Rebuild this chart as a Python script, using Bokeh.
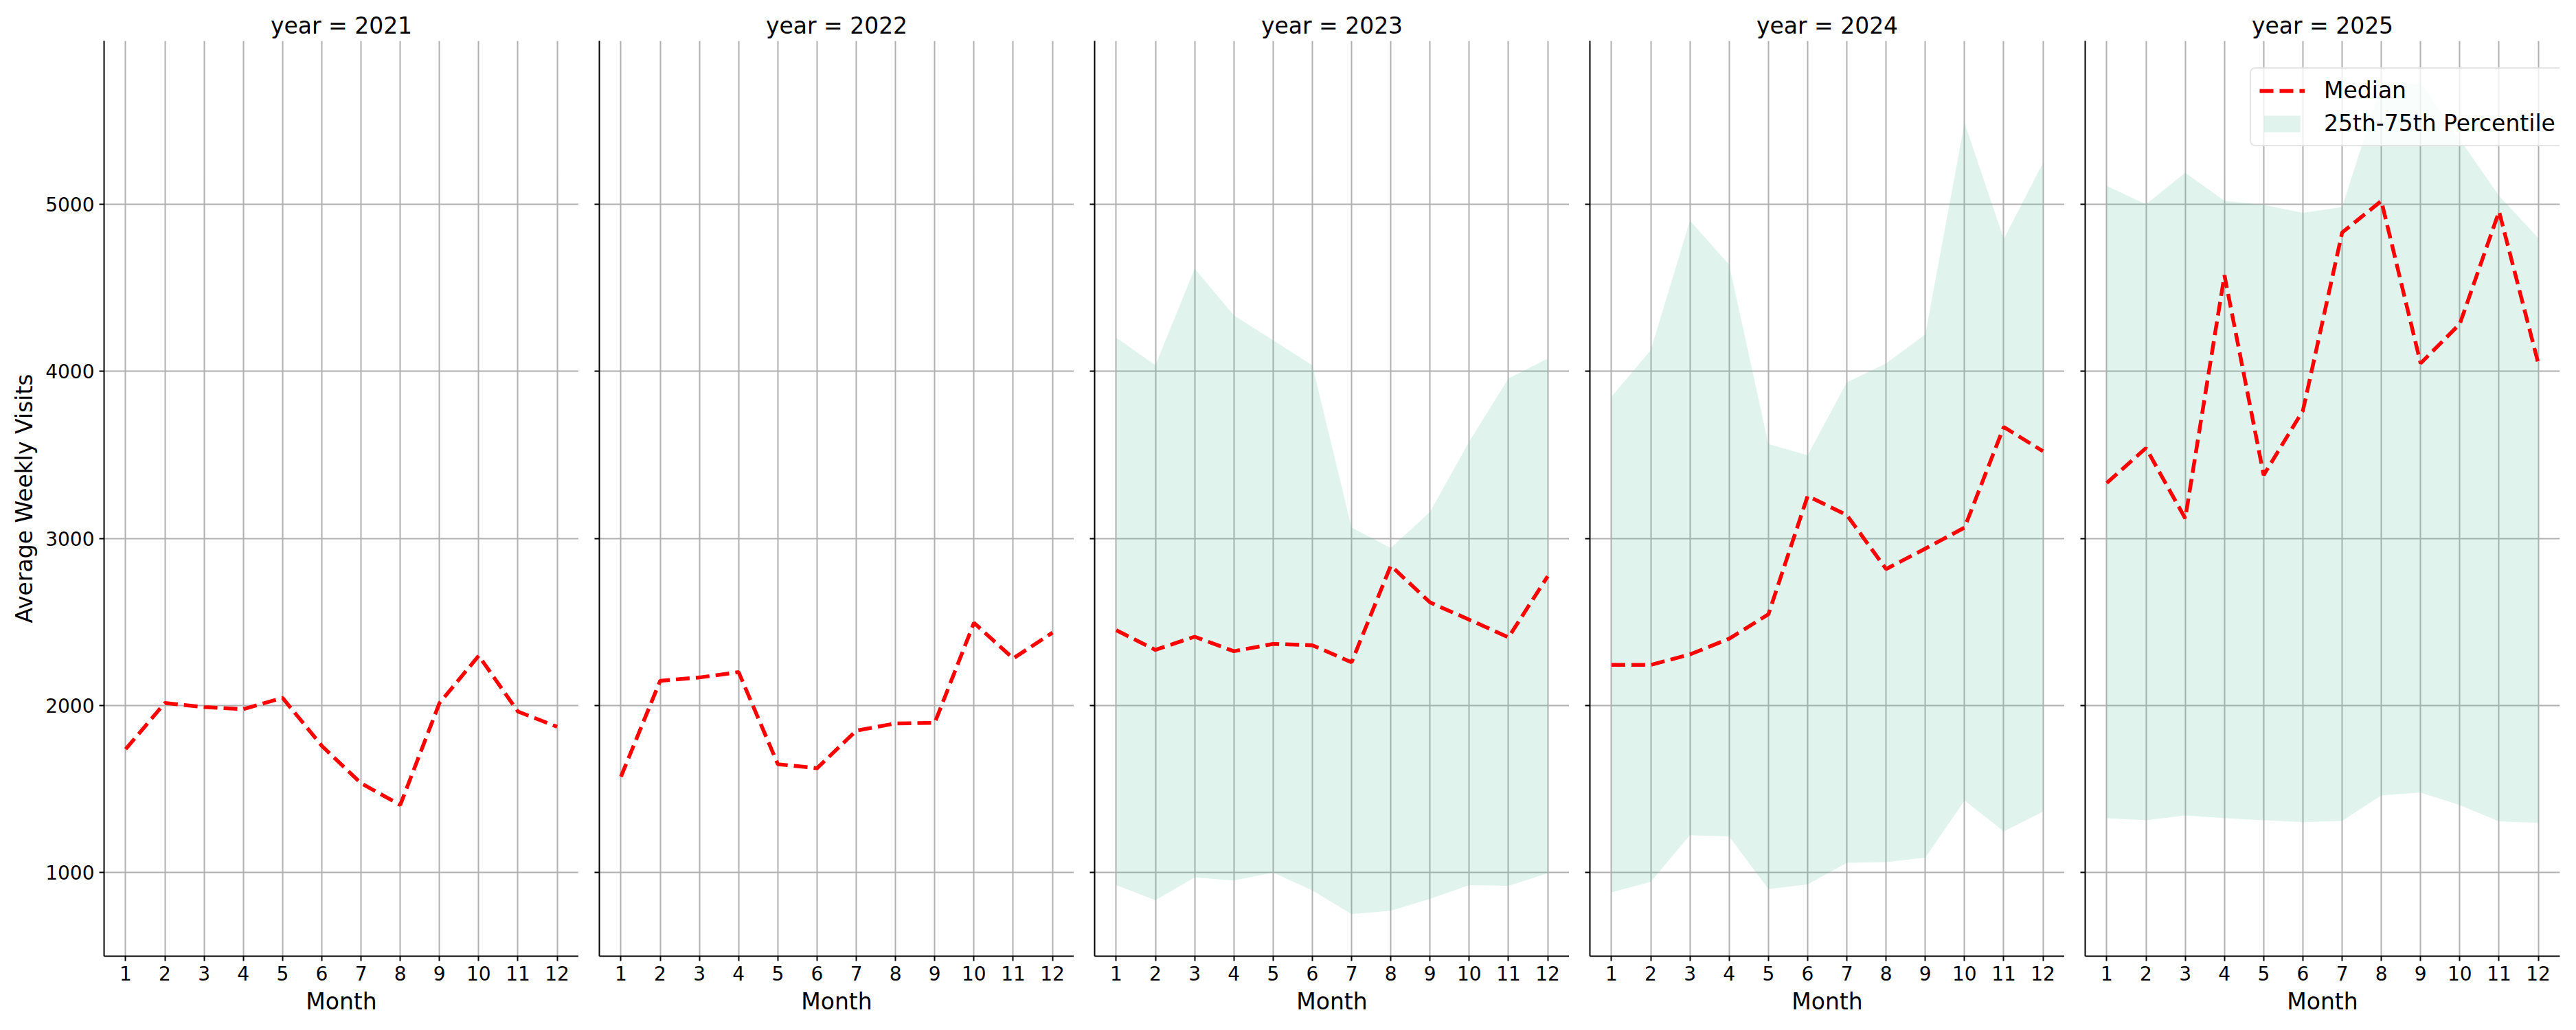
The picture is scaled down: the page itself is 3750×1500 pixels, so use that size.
from bokeh.plotting import figure
from bokeh.layouts import row
from bokeh.models import Range1d, FixedTicker, Legend, LegendItem
from bokeh.embed import file_html
from bokeh.resources import INLINE

# monthly average weekly visits
months = list(range(1, 13))
years = [2021, 2022, 2023, 2024, 2025]
y_ticks = [1000, 2000, 3000, 4000, 5000]

median_2021 = [1739, 2015, 1991, 1979, 2046, 1759, 1535, 1405, 2015, 2298, 1964, 1873]
median_2022 = [1574, 2148, 2168, 2200, 1649, 1625, 1850, 1893, 1897, 2495, 2282, 2436]
median_2023 = [2451, 2333, 2412, 2325, 2369, 2361, 2259, 2837, 2617, 2514, 2408, 2774]
median_2024 = [2243, 2243, 2306, 2400, 2546, 3254, 3140, 2817, 2939, 3065, 3667, 3522]
median_2025 = [3332, 3541, 3120, 4575, 3379, 3765, 4831, 5020, 4048, 4284, 4957, 4048]

p25_2023 = [925, 835, 972, 953, 1000, 894, 752, 772, 843, 925, 921, 996]
p75_2023 = [4202, 4036, 4615, 4335, 4186, 4036, 3065, 2943, 3159, 3580, 3958, 4076]
p25_2024 = [882, 945, 1224, 1216, 902, 929, 1059, 1063, 1090, 1432, 1247, 1365]
p75_2024 = [3848, 4127, 4902, 4638, 3565, 3498, 3935, 4048, 4221, 5488, 4792, 5248]
p25_2025 = [1326, 1314, 1342, 1326, 1314, 1302, 1310, 1463, 1479, 1404, 1306, 1298]
p75_2025 = [5110, 5000, 5189, 5020, 4996, 4949, 4984, 5715, 5725, 5388, 5050, 4799]

medians = {2021: median_2021, 2022: median_2022, 2023: median_2023,
           2024: median_2024, 2025: median_2025}
lower = {2023: p25_2023, 2024: p25_2024, 2025: p25_2025}
upper = {2023: p75_2023, 2024: p75_2024, 2025: p75_2025}

FONT = "DejaVu Sans"
y_range = Range1d(500, 5978)

figs = []
for i, yr in enumerate(years):
    first = i == 0
    last = i == len(years) - 1
    p = figure(
        title=f"year = {yr}", frame_width=691, frame_height=1333,
        x_range=Range1d(0.45, 12.55), y_range=y_range,
        min_border_left=151 if first else 30, min_border_right=6 if last else 0,
        min_border_top=59, min_border_bottom=80,
        output_backend="svg", toolbar_location=None,
    )
    p.outline_line_color = None
    p.background_fill_color = "white"
    p.title.align = "center"
    p.title.text_font = FONT
    p.title.text_font_size = "33px"
    p.title.text_font_style = "normal"
    p.title.text_color = "black"
    p.title.standoff = 6

    p.xaxis.ticker = FixedTicker(ticks=months)
    p.yaxis.ticker = FixedTicker(ticks=y_ticks)
    p.axis.axis_line_color = "black"
    p.axis.axis_line_width = 2
    p.axis.major_tick_line_color = "black"
    p.axis.major_tick_line_width = 2
    p.axis.major_tick_out = 7
    p.axis.major_tick_in = 0
    p.axis.minor_tick_line_color = None
    p.axis.major_label_text_font = FONT
    p.axis.major_label_text_font_size = "28px"
    p.axis.major_label_text_color = "black"
    p.axis.major_label_standoff = 7
    p.axis.axis_label_text_font = FONT
    p.axis.axis_label_text_font_size = "33px"
    p.axis.axis_label_text_font_style = "normal"
    p.axis.axis_label_text_color = "black"
    p.axis.axis_label_standoff = 8
    p.xaxis.axis_label = "Month"
    if first:
        p.yaxis.axis_label = "Average Weekly Visits"
    else:
        p.yaxis.major_label_overrides = {t: "" for t in y_ticks}

    p.grid.grid_line_color = "#b0b0b0"
    p.grid.grid_line_width = 2

    band = None
    if yr in lower:
        band = p.varea(x=months, y1=lower[yr], y2=upper[yr],
                       fill_color="#66c2a5", fill_alpha=0.2)
    med = p.line(months, medians[yr], line_color="red", line_width=5.5,
                 line_dash="20 9")

    if last:
        legend = Legend(items=[LegendItem(label="Median", renderers=[med]),
                               LegendItem(label="25th-75th Percentile", renderers=[band])],
                        location=(240, 1179))
        legend.label_text_font = FONT
        legend.label_text_font_size = "33px"
        legend.label_text_color = "black"
        legend.glyph_width = 66
        legend.glyph_height = 30
        legend.label_standoff = 28
        legend.padding = 12
        legend.spacing = 9
        legend.border_line_color = "#cccccc"
        legend.border_line_width = 2
        legend.border_radius = 8
        legend.background_fill_alpha = 0.8
        p.add_layout(legend, "center")
    figs.append(p)

layout = row(*figs)
open("out.html", "w").write(file_html(layout, INLINE))
